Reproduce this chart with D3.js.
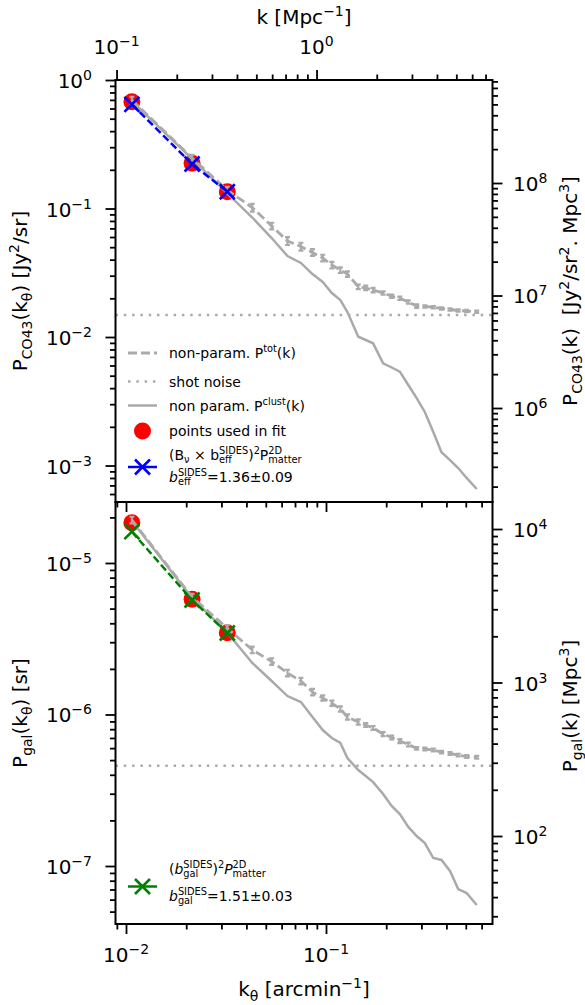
<!DOCTYPE html>
<html><head><meta charset="utf-8">
<script src="https://cdn.jsdelivr.net/npm/d3@7"></script>
<style>
body{margin:0;background:#fff}
svg{display:block}
text{font-family:"DejaVu Sans",sans-serif;fill:#000;white-space:pre}
</style>
</head><body>
<svg id="c" width="585" height="1005"></svg>
<script>
// ---------------- data ----------------
const kTheta = [0.0107,0.0214,0.0321,0.0428,0.0535,0.0642,0.0749,0.0856,0.0963,0.107,0.118,0.128,0.145,0.158,0.172,0.193,0.213,0.234,0.258,0.284,0.312,0.344,0.378,0.417,0.458,0.505,0.567];
const coPtot = [0.699,0.247,0.139,0.1018,0.0731,0.0559,0.0506,0.0455,0.0412,0.0363,0.0332,0.0309,0.0246,0.0241,0.0232,0.0220,0.0208,0.0200,0.0187,0.0174,0.01727,0.01703,0.01667,0.01637,0.01607,0.01592,0.01574];
const coPtotErr = [0.06,0.06,0.06,0.07,0.06,0.07,0.07,0.06,0.06,0.06,0.05,0.05,0.04,0.04,0.04,0.03,0.03,0.03,0.03,0.03,0.02,0.02,0.02,0.02,0.02,0.02,0.02];
const coPclust = [0.686,0.243,0.1313,0.0851,0.0589,0.0427,0.0377,0.0309,0.0268,0.0220,0.0194,0.01565,0.01005,0.00948,0.00893,0.00624,0.00579,0.00537,0.00423,0.00335,0.00261,0.00182,0.00127,0.0011,0.000956,0.0008,0.000656];
const coShot = 0.0148;
const fitK = [0.0107,0.0214,0.0321];
const coFitPts = [0.678,0.225,0.135];
const coModel = [0.647,0.222,0.135];

const galPtot = [1.923e-5,5.96e-6,3.71e-6,2.67e-6,2.24e-6,1.88e-6,1.664e-6,1.408e-6,1.285e-6,1.186e-6,1.087e-6,9.63e-7,8.92e-7,8.53e-7,8.15e-7,7.43e-7,7.05e-7,6.68e-7,6.34e-7,5.98e-7,5.92e-7,5.83e-7,5.65e-7,5.53e-7,5.40e-7,5.28e-7,5.22e-7];
const galPtotErr = [0.05,0.05,0.05,0.05,0.05,0.05,0.05,0.05,0.04,0.04,0.04,0.04,0.04,0.03,0.03,0.03,0.03,0.03,0.03,0.02,0.02,0.02,0.02,0.02,0.02,0.02,0.02];
const galPclust = [1.893e-5,5.88e-6,3.47e-6,2.19e-6,1.664e-6,1.324e-6,1.209e-6,9.63e-7,7.90e-7,7.00e-7,6.49e-7,5.16e-7,4.30e-7,3.93e-7,3.58e-7,2.99e-7,2.49e-7,2.20e-7,1.81e-7,1.578e-7,1.418e-7,1.129e-7,1.096e-7,9.27e-8,7.05e-8,6.63e-8,5.53e-8];
const galShot = 4.59e-7;
const galFitPts = [1.845e-5,5.76e-6,3.47e-6];
const galModel = [1.609e-5,5.70e-6,3.45e-6];

// axes ranges & tick labels
const kConv = 11.15;            // k [Mpc^-1] per k_theta [arcmin^-1]
const xDomain = [0.008861, 0.6801];
const coLeftDomain = [Math.pow(10,-3.284), 1];
const coRightDomain = [Math.pow(10,5.1644), Math.pow(10,8.9156)];
const galLeftDomain = [Math.pow(10,-7.3828), Math.pow(10,-4.5974)];
const galRightDomain = [Math.pow(10,1.4267), Math.pow(10,4.176)];
const xTicks = [0.01, 0.1];
const kTicks = [0.1, 1];
const coLeftTicks = [1e-3, 1e-2, 1e-1, 1];
const coRightTicks = [1e6, 1e7, 1e8];
const galLeftTicks = [1e-7, 1e-6, 1e-5];
const galRightTicks = [1e2, 1e3, 1e4];

// ---------------- layout ----------------
const L = 115.5, R = 492.5, T1 = 80, B1 = 502, T2 = 502, B2 = 924;
const GREY = '#aaaaaa';
const svg = d3.select('#c');

const x = d3.scaleLog().domain(xDomain).range([L, R]);
const xTop = d3.scaleLog().domain(xDomain.map(v => v * kConv)).range([L, R]);
const yCoL = d3.scaleLog().domain(coLeftDomain).range([B1, T1]);
const yCoR = d3.scaleLog().domain(coRightDomain).range([B1, T1]);
const yGalL = d3.scaleLog().domain(galLeftDomain).range([B2, T2]);
const yGalR = d3.scaleLog().domain(galRightDomain).range([B2, T2]);

function minorTicks(dom) {
  const out = [];
  const lo = Math.floor(Math.log10(dom[0])), hi = Math.ceil(Math.log10(dom[1]));
  for (let e = lo; e <= hi; e++) for (let m = 2; m <= 9; m++) {
    const v = m * Math.pow(10, e);
    if (v >= dom[0] * 0.9999 && v <= dom[1] * 1.0001) out.push(v);
  }
  return out;
}

// rich text: parts = strings or {t,i} or {sub,sup}
function rich(parent, parts, fs) {
  const g = parent.append('g');
  let cx = 0;
  parts.forEach(p => {
    if (typeof p === 'string') p = { t: p };
    if (p.t !== undefined) {
      const el = g.append('text').attr('x', cx).attr('y', 0).attr('font-size', fs)
        .attr('xml:space', 'preserve').text(p.t);
      if (p.i) el.attr('font-style', 'italic');
      cx += el.node().getComputedTextLength();
    } else {
      let w = 0;
      const sfs = fs * 0.7;
      if (p.sup !== undefined) {
        const el = g.append('text').attr('x', cx).attr('y', -fs * 0.40).attr('font-size', sfs).text(p.sup);
        w = Math.max(w, el.node().getComputedTextLength());
      }
      if (p.sub !== undefined) {
        const el = g.append('text').attr('x', cx).attr('y', fs * 0.24).attr('font-size', sfs).text(p.sub);
        w = Math.max(w, el.node().getComputedTextLength());
      }
      cx += w;
    }
  });
  return { g, w: cx };
}
function place(parent, parts, fs, x0, y0, anchor, rot) {
  const r = rich(parent, parts, fs);
  let dx = 0;
  if (anchor === 'middle') dx = -r.w / 2;
  if (anchor === 'end') dx = -r.w;
  if (rot) r.g.attr('transform', `translate(${x0},${y0}) rotate(-90) translate(${dx},0)`);
  else r.g.attr('transform', `translate(${x0 + dx},${y0})`);
  return r;
}
function powLabel(v) {
  const e = Math.round(Math.log10(v));
  return ['10', { sup: String(e).replace('-', '\u2212') }];
}

const TFS = 20;   // tick label font
const MAJ = 10, MIN = 5.5, TW = 1.8;

function drawAxis(gen, scale, tx, ty, majors) {
  const dom = scale.domain();
  [[majors, MAJ], [minorTicks(dom), MIN]].forEach(([vals, size]) => {
    const g = svg.append('g').attr('transform', `translate(${tx},${ty})`)
      .call(gen(scale).tickValues(vals).tickSize(size).tickFormat(''));
    g.select('.domain').remove();
    g.selectAll('line').attr('stroke', '#000').attr('stroke-width', TW);
  });
}

function drawX(g, cx, cy, color) {
  const s = 7.5;
  g.append('path').attr('d', `M${cx - s},${cy - s}L${cx + s},${cy + s}M${cx - s},${cy + s}L${cx + s},${cy - s}`)
    .attr('stroke', color).attr('stroke-width', 2.6).attr('fill', 'none');
}

// ---------------- panels ----------------
function panel(top, bot, yL, yR, ptot, perr, pclust, shot, fitPts, model, mColor, leftTicks, rightTicks) {
  const clipId = 'clip' + top;
  svg.append('clipPath').attr('id', clipId).append('rect').attr('x', L).attr('y', top).attr('width', R - L).attr('height', bot - top);
  const g = svg.append('g').attr('clip-path', `url(#${clipId})`);

  // shot noise
  g.append('line').attr('x1', L).attr('x2', R).attr('y1', yL(shot)).attr('y2', yL(shot))
    .attr('stroke', GREY).attr('stroke-width', 2.5).attr('stroke-dasharray', '2.5,5.8');

  // fit points (red)
  g.selectAll(null).data(fitK).join('circle')
    .attr('cx', d => x(d)).attr('cy', (d, i) => yL(fitPts[i])).attr('r', 8.5).attr('fill', '#ff0000');

  // P clust solid
  const line = d3.line().x((d, i) => x(kTheta[i])).y(d => yL(d));
  g.append('path').attr('d', line(pclust)).attr('fill', 'none').attr('stroke', GREY).attr('stroke-width', 2.5);

  // P tot dashed with error bars
  g.append('path').attr('d', line(ptot)).attr('fill', 'none').attr('stroke', GREY)
    .attr('stroke-width', 2.8).attr('stroke-dasharray', '9,4');
  const eb = g.append('g').attr('stroke', GREY).attr('stroke-width', 2.2);
  ptot.forEach((v, i) => {
    const xx = x(kTheta[i]);
    const y1 = yL(v * (1 - perr[i])), y2 = yL(v * (1 + perr[i]));
    eb.append('line').attr('x1', xx).attr('x2', xx).attr('y1', y1).attr('y2', y2);
    eb.append('line').attr('x1', xx - 2.5).attr('x2', xx + 2.5).attr('y1', y2).attr('y2', y2);
    eb.append('line').attr('x1', xx - 2.5).attr('x2', xx + 2.5).attr('y1', y1).attr('y2', y1);
  });

  // model
  const mline = d3.line().x((d, i) => x(fitK[i])).y(d => yL(d));
  g.append('path').attr('d', mline(model)).attr('fill', 'none').attr('stroke', mColor)
    .attr('stroke-width', 2.5).attr('stroke-dasharray', '7.5,3.5');
  model.forEach((v, i) => drawX(g, x(fitK[i]), yL(v), mColor));

  // frame
  svg.append('rect').attr('x', L).attr('y', top).attr('width', R - L).attr('height', bot - top)
    .attr('fill', 'none').attr('stroke', '#000').attr('stroke-width', 2);

  // y axes
  drawAxis(d3.axisLeft, yL, L, 0, leftTicks);
  drawAxis(d3.axisRight, yR, R, 0, rightTicks);
  leftTicks.forEach(v => place(svg, powLabel(v), TFS, 92, yL(v) + 8, 'end'));
  rightTicks.forEach(v => place(svg, powLabel(v), TFS, 513, yR(v) + 8, 'start'));
}

panel(T1, B1, yCoL, yCoR, coPtot, coPtotErr, coPclust, coShot, coFitPts, coModel, '#0000ff', coLeftTicks, coRightTicks);
panel(T2, B2, yGalL, yGalR, galPtot, galPtotErr, galPclust, galShot, galFitPts, galModel, '#008000', galLeftTicks, galRightTicks);

// x axes
drawAxis(d3.axisTop, xTop, 0, T1, kTicks);
drawAxis(d3.axisBottom, x, 0, B1, xTicks);
drawAxis(d3.axisBottom, x, 0, B2, xTicks);
kTicks.forEach(v => place(svg, powLabel(v), TFS, xTop(v), 54, 'middle'));
xTicks.forEach(v => place(svg, powLabel(v), TFS, x(v), 962, 'middle'));

// axis titles
place(svg, ['k [Mpc', { sup: '\u22121' }, ']'], TFS, (L + R) / 2, 24, 'middle');
place(svg, ['k', { sub: '\u03b8' }, ' [arcmin', { sup: '\u22121' }, ']'], TFS, (L + R) / 2, 996, 'middle');
place(svg, ['P', { sub: 'CO43' }, '(k', { sub: '\u03b8' }, ') [Jy', { sup: '2' }, '/sr]'], TFS, 27, (T1 + B1) / 2, 'middle', true);
place(svg, ['P', { sub: 'gal' }, '(k', { sub: '\u03b8' }, ') [sr]'], TFS, 27, (T2 + B2) / 2, 'middle', true);
place(svg, ['P', { sub: 'CO43' }, '(k)  [Jy', { sup: '2' }, '/sr', { sup: '2' }, '. Mpc', { sup: '3' }, ']'], TFS, 577, (T1 + B1) / 2, 'middle', true);
place(svg, ['P', { sub: 'gal' }, '(k) [Mpc', { sup: '3' }, ']'], TFS, 577, 706, 'middle', true);

// ---------------- legends ----------------
const LFS = 14, HX1 = 128, HX2 = 157, TX = 169;
const lg = svg.append('g');
function hline(y, dash, w) {
  const l = lg.append('line').attr('x1', HX1).attr('x2', HX2).attr('y1', y).attr('y2', y)
    .attr('stroke', GREY).attr('stroke-width', w);
  if (dash) l.attr('stroke-dasharray', dash);
}
hline(353, '9,4', 2.8);
place(lg, ['non-param. P', { sup: 'tot' }, '(k)'], LFS, TX, 358);
hline(381.5, '2.5,5.8', 2.5);
place(lg, ['shot noise'], LFS, TX, 386.5);
hline(405.5, null, 2.5);
place(lg, ['non param. P', { sup: 'clust' }, '(k)'], LFS, TX, 410.5);
lg.append('circle').attr('cx', 142.5).attr('cy', 431).attr('r', 8.5).attr('fill', '#ff0000');
place(lg, ['points used in fit'], LFS, TX, 436);
lg.append('line').attr('x1', HX1).attr('x2', HX2).attr('y1', 467).attr('y2', 467).attr('stroke', '#0000ff').attr('stroke-width', 2.5);
drawX(lg, 142.5, 467, '#0000ff');
place(lg, ['(B', { sub: '\u03bd' }, ' \u00d7 b', { sub: 'eff', sup: 'SIDES' }, ')', { sup: '2' }, 'P', { sub: 'matter', sup: '2D' }], LFS, TX, 460);
place(lg, [{ t: 'b', i: true }, { sub: 'eff', sup: 'SIDES' }, '=1.36\u00b10.09'], LFS, TX, 482);

lg.append('line').attr('x1', HX1).attr('x2', HX2).attr('y1', 886.5).attr('y2', 886.5).attr('stroke', '#008000').attr('stroke-width', 2.5);
drawX(lg, 142.5, 886.5, '#008000');
place(lg, ['(', { t: 'b', i: true }, { sub: 'gal', sup: 'SIDES' }, ')', { sup: '2' }, { t: 'P', i: true }, { sub: 'matter', sup: '2D' }], LFS, TX, 874);
place(lg, [{ t: 'b', i: true }, { sub: 'gal', sup: 'SIDES' }, '=1.51\u00b10.03'], LFS, TX, 901);
</script>
</body></html>
